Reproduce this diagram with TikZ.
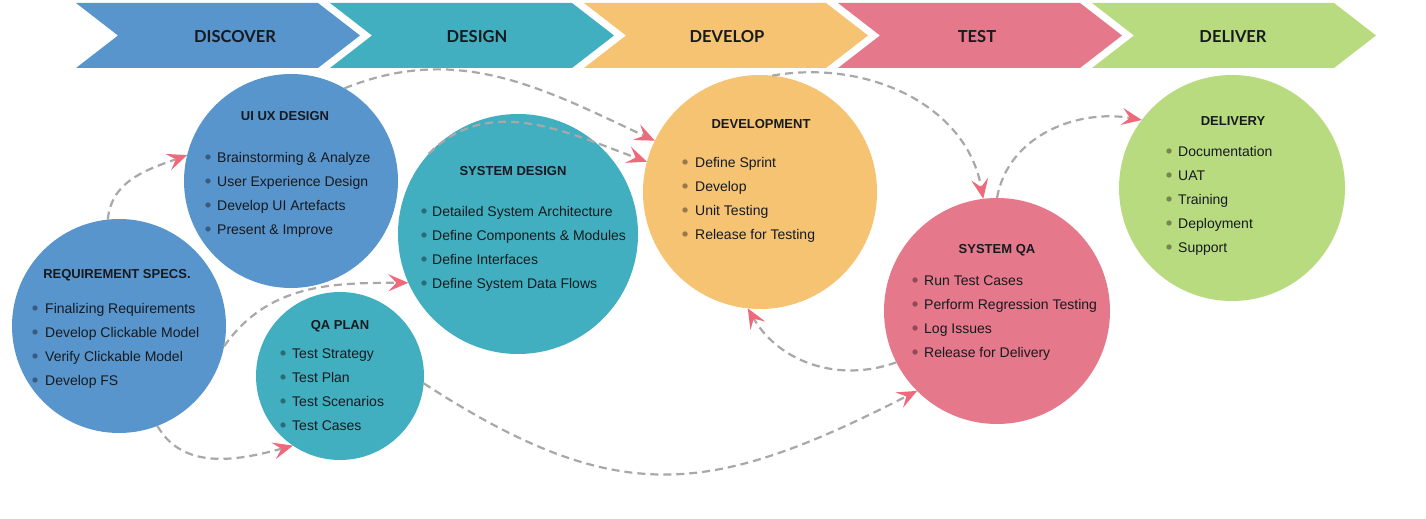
\documentclass[tikz,border=0pt]{standalone}
\usepackage{fontspec}
\setmainfont{Liberation Sans}
\newfontfamily\stagefont{Lato}
\usepackage{tikz}
\usetikzlibrary{arrows.meta,positioning,calc}

\definecolor{discoverblue}{HTML}{5895CD}
\definecolor{designteal}{HTML}{42AFC0}
\definecolor{developorange}{HTML}{F5C372}
\definecolor{testpink}{HTML}{E5788B}
\definecolor{delivergreen}{HTML}{B9DB80}
\definecolor{flowgray}{HTML}{A8A8A8}
\definecolor{tippink}{HTML}{F0697A}
\definecolor{ink}{HTML}{161A1F}

\tikzset{
  stage/.style={inner sep=0pt,text=ink,font=\stagefont\fontsize{16.5}{18}\selectfont\bfseries},
  phase/.style={circle,inner sep=0pt,outer sep=0pt},
  title/.style={anchor=base,inner sep=0pt,text=ink,font=\fontsize{13}{15}\selectfont\bfseries},
  entry/.style={anchor=base west,inner sep=0pt,text=ink,font=\fontsize{14}{16}\selectfont},
  flow/.style={draw=flowgray,line width=2.2pt,dash pattern=on 8pt off 5pt,
    -{Stealth[color=tippink,length=20pt,width=17pt,inset=8pt]}},
}

\begin{document}
\begin{tikzpicture}[x=1pt,y=1pt]
  \fill[white] (0,0) rectangle (1426,519);
  \useasboundingbox (0,0) rectangle (1426,519);

  % stages band
  \foreach \lbl/\col/\lx [count=\i from 0] in {DISCOVER/discoverblue/235,DESIGN/designteal/477,DEVELOP/developorange/727,TEST/testpink/977,DELIVER/delivergreen/1233}{
    \fill[\col] ({76+254*\i},516) -- ++(242,0) -- ++(42,-32.5) -- ++(-42,-32.5) -- ++(-242,0) -- ++(42,32.5) -- cycle;
    \node[stage] (stage-\i) at (\lx,482) {\lbl};
  }

  % circles
  \node[phase,fill=discoverblue,minimum size=214pt] (req) at (119,193) {};
  \node[phase,fill=discoverblue,minimum size=214pt] (uiux) at (291,338) {};
  \node[phase,fill=designteal,minimum size=168pt] (qa) at (340,143) {};
  \node[phase,fill=designteal,minimum size=240pt] (sysd) at (518,285) {};
  \node[phase,fill=developorange,minimum size=234pt] (dev) at (760,327) {};
  \node[phase,fill=testpink,minimum size=226pt] (sysqa) at (997,208) {};
  \node[phase,fill=delivergreen,minimum size=226pt] (deliv) at (1232,331) {};

  % titles
  \node[title] (req-t) at (117,240.3) {REQUIREMENT SPECS.};
  \node[title] (uiux-t) at (285,398.3) {UI UX DESIGN};
  \node[title] (qa-t) at (340,189.3) {QA PLAN};
  \node[title] (sysd-t) at (513,343.3) {SYSTEM DESIGN};
  \node[title] (dev-t) at (761,390.3) {DEVELOPMENT};
  \node[title] (sysqa-t) at (997,265.3) {SYSTEM QA};
  \node[title] (deliv-t) at (1233,393.3) {DELIVERY};

  % bullet lists
  \foreach \n/\bx/\tx/\by/\col/\items in {
      req/35/45/211/discoverblue/{Finalizing Requirements,Develop Clickable Model,Verify Clickable Model,Develop FS},
      uiux/208/217/362/discoverblue/{Brainstorming \& Analyze,User Experience Design,Develop UI Artefacts,Present \& Improve},
      qa/283/292/166/designteal/{Test Strategy,Test Plan,Test Scenarios,Test Cases},
      sysd/424/432/308/designteal/{Detailed System Architecture,Define Components \& Modules,Define Interfaces,Define System Data Flows},
      dev/685/695/357/developorange/{Define Sprint,Develop,Unit Testing,Release for Testing},
      sysqa/915/924/239/testpink/{Run Test Cases,Perform Regression Testing,Log Issues,Release for Delivery},
      deliv/1169/1178/368/delivergreen/{Documentation,UAT,Training,Deployment,Support}}{
    \foreach \t [count=\i] in \items {
      \fill[\col!62!black] (\bx,{\by-24*(\i-1)}) circle (2.7pt);
      \node[entry] (\n-\i) at (\tx,{\by-5.2-24*(\i-1)}) {\t};
    }
  }

  % flows
  \draw[flow] (req.96) to[out=85,in=200] (uiux.166);
  \draw[flow] (req.-11) to[out=55,in=180] (sysd.204);
  \draw[flow] (req.-69) to[out=-60,in=195] (qa.236);
  \draw[flow] (uiux.60) to[out=22,in=155] (dev.154);
  \draw[flow] (sysd.138) to[out=45,in=160] (dev.165);
  \draw[flow] (qa.-5) to[out=-33,in=207,looseness=1.2] (sysqa.225);
  \draw[flow] (dev.84) to[out=10,in=100] (sysqa.97);
  \draw[flow] (sysqa.207) to[out=200,in=-60] (dev.264);
  \draw[flow] (sysqa.90) to[out=80,in=170] (deliv.143);
\end{tikzpicture}
\end{document}
